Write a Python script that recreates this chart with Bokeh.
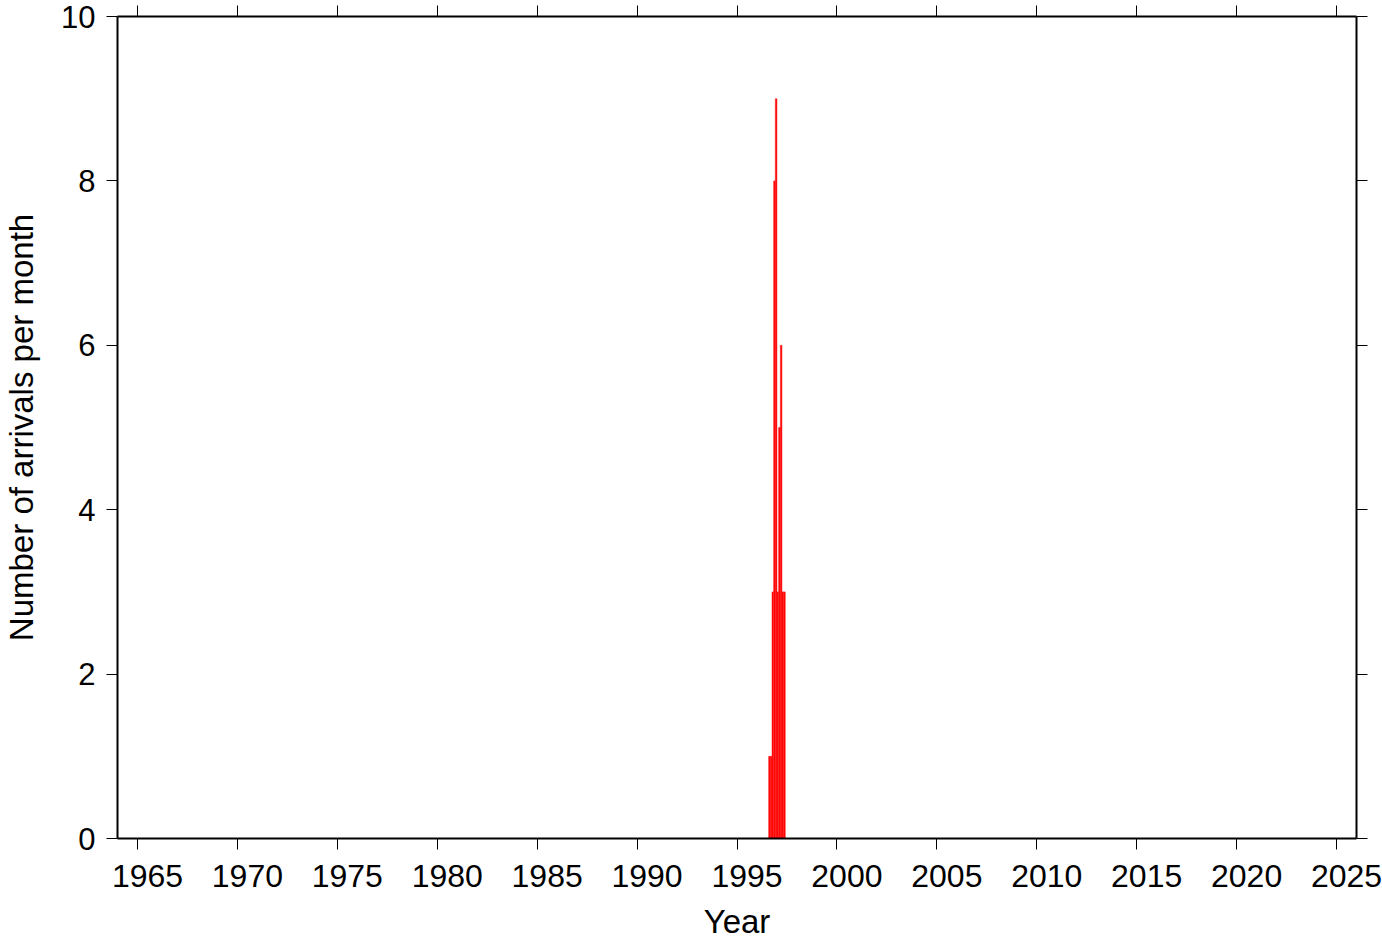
from bokeh.plotting import figure
from bokeh.models import LinearAxis, FixedTicker, Range1d, ColumnDataSource
from bokeh.embed import file_html
from bokeh.resources import INLINE

# ---- data ----
months = ["1996-08", "1996-09", "1996-10", "1996-11", "1996-12",
          "1997-01", "1997-02", "1997-03", "1997-04", "1997-05"]
counts = [1, 1, 3, 8, 9, 3, 5, 6, 3, 3]
x_ticks = [1965, 1970, 1975, 1980, 1985, 1990, 1995, 2000, 2005, 2010, 2015, 2020, 2025]
y_ticks = [0, 2, 4, 6, 8, 10]
x_label = "Year"
y_label = "Number of arrivals per month"


def month_to_decimal(m):
    y, mo = m.split("-")
    return int(y) + (int(mo) - 1) / 12.0


left = [month_to_decimal(m) for m in months]
right = [v + 1.0 / 12.0 for v in left]
src = ColumnDataSource(dict(left=left, right=right, top=counts, bottom=[0] * len(counts)))

# year annotations are centred on the year interval (as in the reference)
label_pos = [t + 0.5 for t in x_ticks]
label_text = {lp: str(t) for lp, t in zip(label_pos, x_ticks)}

FONT = "Liberation Sans"

p = figure(width=1382, height=942, output_backend="svg", toolbar_location=None,
           x_range=Range1d(1964, 2026), y_range=Range1d(0, 10),
           min_border_left=116, min_border_right=26, min_border_bottom=103, min_border_top=16)
p.background_fill_color = "white"
p.border_fill_color = "white"
p.outline_line_color = None
p.xgrid.visible = False
p.ygrid.visible = False

p.quad(left="left", right="right", top="top", bottom="bottom", source=src,
       fill_color="#ff0000", line_color="#ff2020", line_width=0.5)


def style(ax, labels=True, size="31px"):
    ax.axis_line_color = "black"
    ax.axis_line_width = 2
    ax.major_tick_line_color = "black"
    ax.major_tick_line_width = 1
    ax.major_tick_out = 11
    ax.major_tick_in = 0
    ax.minor_tick_line_color = None
    ax.major_label_text_font = FONT
    ax.axis_label_text_font = FONT
    ax.axis_label_text_font_style = "normal"
    ax.major_label_text_color = "black"
    ax.axis_label_text_color = "black"
    if labels:
        ax.major_label_text_font_size = size
        ax.axis_label_text_font_size = "33px"
    else:
        ax.major_label_text_font_size = "0px"
        ax.major_label_standoff = 0
        ax.axis_label_standoff = 0


xa = p.xaxis[0]
xa.ticker = FixedTicker(ticks=label_pos, minor_ticks=x_ticks)
xa.major_label_overrides = label_text
xa.axis_label = x_label
style(xa, size="32px")
xa.major_tick_out = 0
xa.minor_tick_line_color = "black"
xa.minor_tick_line_width = 1
xa.minor_tick_out = 11
xa.minor_tick_in = 0
xa.major_label_standoff = 15
xa.axis_label_standoff = 13

ya = p.yaxis[0]
ya.ticker = FixedTicker(ticks=y_ticks)
ya.axis_label = y_label
style(ya)
ya.major_label_standoff = 11
ya.axis_label_standoff = 18

top_ax = LinearAxis(ticker=FixedTicker(ticks=x_ticks))
style(top_ax, labels=False)
top_ax.major_label_overrides = {t: "" for t in x_ticks}
p.add_layout(top_ax, "above")

right_ax = LinearAxis(ticker=FixedTicker(ticks=y_ticks))
style(right_ax, labels=False)
right_ax.major_label_overrides = {t: "" for t in y_ticks}
p.add_layout(right_ax, "right")

open("out.html", "w").write(file_html(p, INLINE))
